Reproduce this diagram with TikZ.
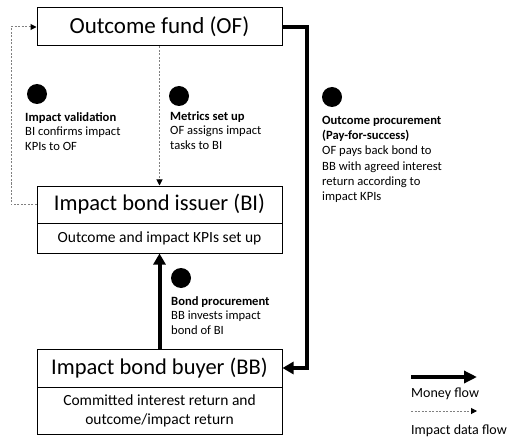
\documentclass[tikz,border=0pt]{standalone}
\usepackage{fontspec}
\setmainfont{Carlito}
\usetikzlibrary{arrows.meta}
\begin{document}
\begin{tikzpicture}[x=1pt,y=-1pt,
  box/.style={draw=black,line width=1pt,minimum width=245pt,inner sep=0pt},
  money/.style={line width=4pt,-{Triangle[length=11pt,width=12pt]}},
  data/.style={draw=gray,line width=1pt,dash pattern=on 2pt off 1.5pt,-{Triangle[length=6pt,width=6pt,fill=black,color=black]}},
  dot/.style={circle,fill=black,minimum size=20pt,inner sep=0pt},
  lbl/.style={anchor=north west,align=left,inner sep=0pt,font=\fontsize{12.6}{14.6}\selectfont}]
\useasboundingbox (0,0) rectangle (510,438);
% boxes
\node[box,minimum height=38pt,font=\fontsize{23}{26}\selectfont] (of) at (159.5,27) {Outcome fund (OF)};
\node[box,minimum height=37pt,font=\fontsize{22.5}{25}\selectfont] (bitop) at (159.5,204.5) {Impact bond issuer (BI)};
\node[box,minimum height=30pt,font=\fontsize{15.5}{18}\selectfont] (bibot) at (159.5,238) {Outcome and impact KPIs set up};
\node[box,minimum height=38pt,font=\fontsize{22.5}{25}\selectfont] (bbtop) at (159.5,368) {Impact bond buyer (BB)};
\node[box,minimum height=47pt,align=center,font=\fontsize{15.5}{19}\selectfont] (bbbot) at (159.5,410.5) {Committed interest return and\\outcome/impact return};
% connectors
\coordinate (r) at (307,27);
\draw[money] (of.east) -- (r) |- (bbtop.east);
\draw[data] (of.south) -- (bitop.north);
\coordinate (l) at (11,204.5);
\draw[data] (bitop.west) -- (l) |- (of.west);
\draw[money] (bbtop.north) -- (bibot.south);
% dots
\node[dot] (d1) at (37,94) {};
\node[dot] (d2) at (179,96) {};
\node[dot] (d3) at (332,97) {};
\node[dot] (d4) at (181,278) {};
% labels
\node[lbl] (t1) at (25,112) {\textbf{Impact validation}\\BI confirms impact\\KPIs to OF};
\node[lbl] (t2) at (170,111) {\textbf{Metrics set up}\\OF assigns impact\\tasks to BI};
\node[lbl,font=\fontsize{12.6}{15.2}\selectfont] (t3) at (322,116) {\textbf{Outcome procurement}\\\textbf{(Pay-for-success)}\\OF pays back bond to\\BB with agreed interest\\return according to\\impact KPIs};
\node[lbl] (t4) at (171,296) {\textbf{Bond procurement}\\BB invests impact\\bond of BI};
% legend
\coordinate (m1) at (411,377);
\coordinate (m2) at (477,377);
\draw[money,-{Triangle[length=13pt,width=12pt]}] (m1) -- (m2);
\node[lbl,font=\fontsize{14}{15}\selectfont] (lm) at (411,388) {Money flow};
\coordinate (i1) at (411,411);
\coordinate (i2) at (477,411);
\draw[data] (i1) -- (i2);
\node[lbl,font=\fontsize{14}{15}\selectfont] (li) at (411,425) {Impact data flow};
\end{tikzpicture}
\end{document}
